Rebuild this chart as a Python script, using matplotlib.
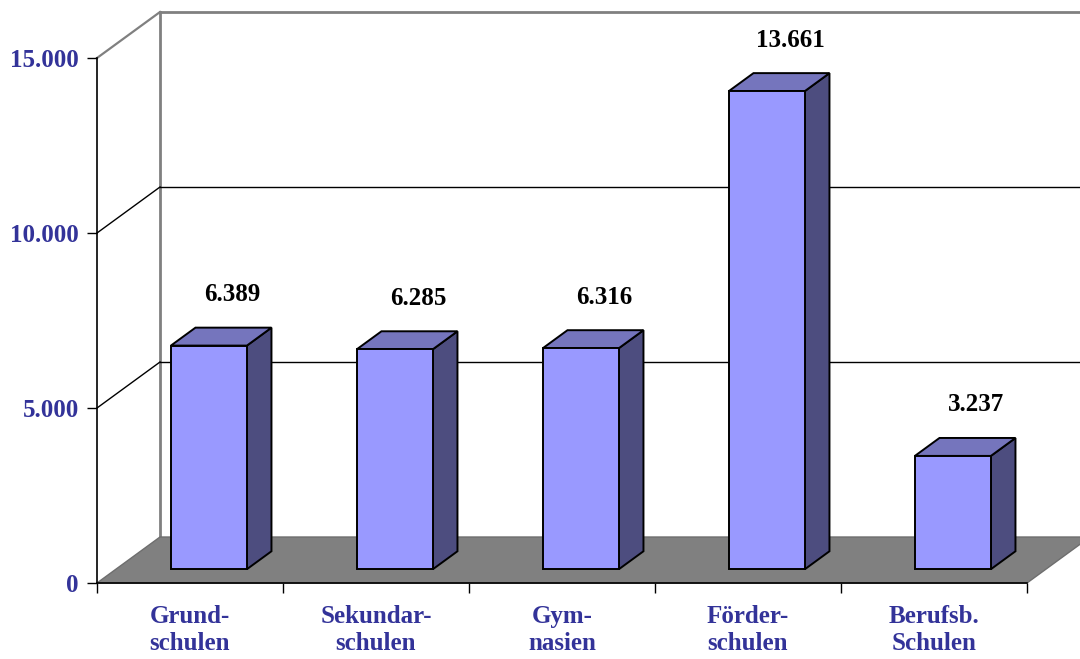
import matplotlib
matplotlib.use("Agg")
import matplotlib.pyplot as plt
from matplotlib.patches import Polygon

categories = ["Grund-\nschulen", "Sekundar-\nschulen", "Gym-\nnasien", "Förder-\nschulen", "Berufsb.\nSchulen"]
values = [6389, 6285, 6316, 13661, 3237]
value_labels = ["6.389", "6.285", "6.316", "13.661", "3.237"]
yticks = [0, 5000, 10000, 15000]
ytick_labels = ["0", "5.000", "10.000", "15.000"]

W, H = 1080, 659
fig = plt.figure(figsize=(W / 100, H / 100), dpi=100)
# front plane: x 97..1027 px, y 0 -> 583 px, 15000 -> 58 px (from top)
ax = fig.add_axes([97 / W, (H - 583) / H, 930 / W, 525 / H])
n = len(values)
ax.set_xlim(0, n)
ax.set_ylim(0, 15000)

px_per_cat = 930 / n
px_per_val = 525 / 15000
DX = 63 / px_per_cat      # depth offset in category units
DY = 46 / px_per_val      # depth offset in value units

serif = "Liberation Serif"
blue = "#333399"
fs = 18

# spines & ticks
for s in ["top", "right"]:
    ax.spines[s].set_visible(False)
ax.spines["left"].set_color("black")
ax.spines["bottom"].set_color("black")
ax.spines["left"].set_linewidth(1.2)
ax.spines["bottom"].set_linewidth(1.2)
ax.spines["left"].set_zorder(6)
ax.spines["bottom"].set_zorder(6)
ax.set_yticks(yticks)
ax.set_yticklabels(ytick_labels, fontfamily=serif, fontweight="bold", fontsize=fs, color=blue)
ax.tick_params(axis="y", direction="out", length=7.2, width=1.0, pad=6)
ax.set_xticks(range(n + 1))
ax.set_xticklabels([""] * (n + 1))
ax.tick_params(axis="x", which="major", direction="out", length=7.2, width=1.0)
ax.set_xticks([i + 0.5 for i in range(n)], minor=True)
ax.set_xticklabels(categories, minor=True, fontfamily=serif, fontweight="bold",
                   fontsize=fs, color=blue, linespacing=1.2)
ax.tick_params(axis="x", which="minor", length=0, pad=16)
ax.patch.set_visible(False)

# back wall
gray = "#808080"
ax.plot([DX, DX], [DY, 15000 + DY], color=gray, lw=2, clip_on=False, zorder=1)
ax.plot([DX, n + DX + 1], [15000 + DY, 15000 + DY], color=gray, lw=2, clip_on=False, zorder=1)
for v in yticks[1:-1]:
    ax.plot([DX, n + DX + 1], [v + DY, v + DY], color="black", lw=1, clip_on=False, zorder=1)
# side wall diagonals
for v in yticks[1:]:
    ax.plot([0, DX], [v, v + DY], color=(gray if v == 15000 else "black"), lw=(1.6 if v == 15000 else 1),
            clip_on=False, zorder=1)

# floor
floor = Polygon([(0, 0), (n, 0), (n + DX, DY), (DX, DY)], closed=True,
                facecolor="#808080", edgecolor="#6e6e6e", lw=1, clip_on=False, zorder=2)
ax.add_patch(floor)

# bars
bw = 76 / px_per_cat
f1 = 0.30
fd = 0.39
front_c = "#9999FF"
top_c = "#7575BD"
side_c = "#4D4D7F"
for i, v in enumerate(values):
    xl = i + 0.5 - bw / 2 + f1 * DX
    xr = xl + bw
    yb = f1 * DY
    yt = v + f1 * DY
    ddx, ddy = fd * DX, fd * DY
    side = Polygon([(xr, yb), (xr + ddx, yb + ddy), (xr + ddx, yt + ddy), (xr, yt)],
                   closed=True, facecolor=side_c, edgecolor="black", lw=1.4, clip_on=False, zorder=3)
    top = Polygon([(xl, yt), (xr, yt), (xr + ddx, yt + ddy), (xl + ddx, yt + ddy)],
                  closed=True, facecolor=top_c, edgecolor="black", lw=1.4, clip_on=False, zorder=3)
    front = Polygon([(xl, yb), (xr, yb), (xr, yt), (xl, yt)],
                    closed=True, facecolor=front_c, edgecolor="black", lw=1.4, clip_on=False, zorder=4)
    for p in (side, top, front):
        ax.add_patch(p)
    ax.text(i + 0.5 + f1 * DX + 23 / px_per_cat, yt + 51 / px_per_val, value_labels[i],
            ha="center", va="center", fontfamily=serif, fontweight="bold", fontsize=fs,
            color="black", zorder=5, clip_on=False)

fig.savefig("out.png", dpi=100)
